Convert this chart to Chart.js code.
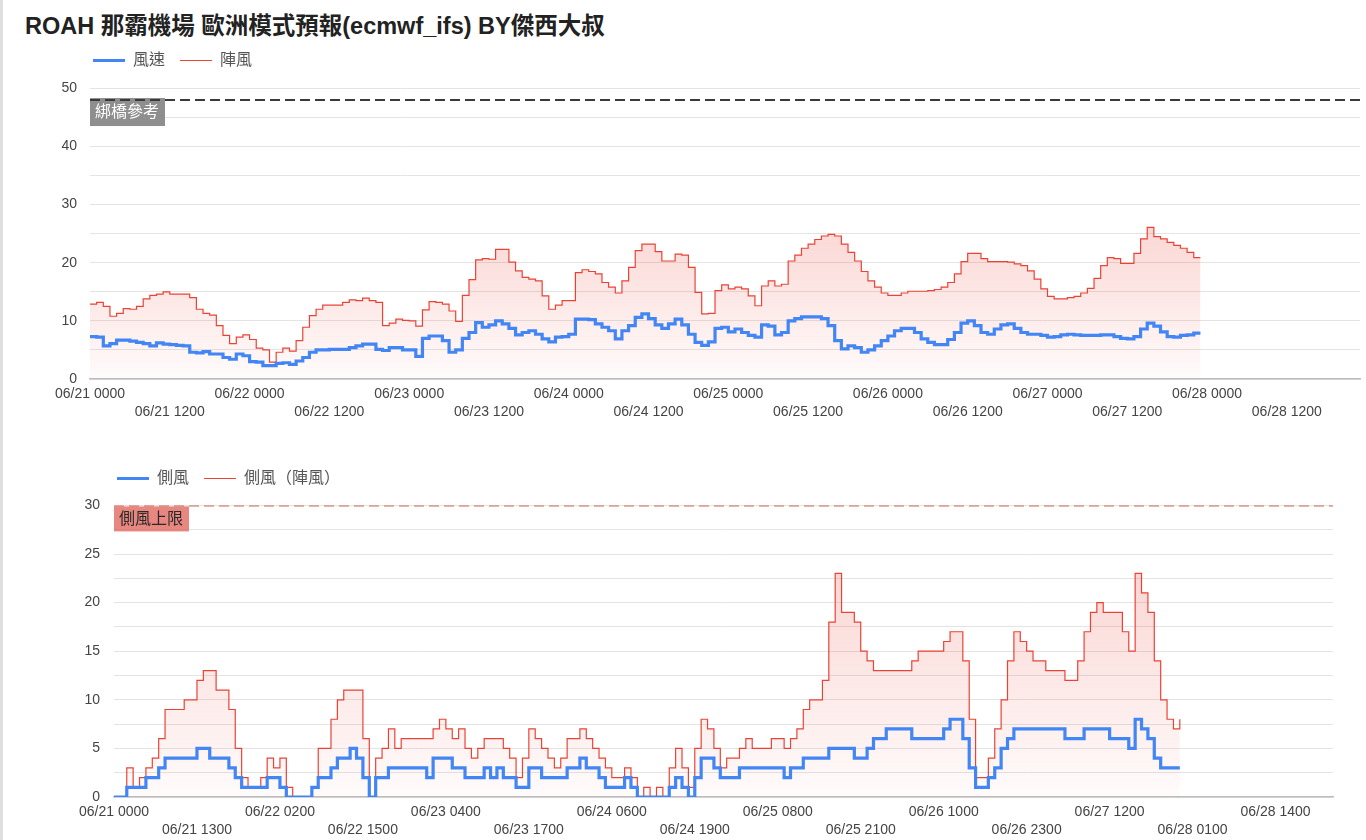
<!DOCTYPE html>
<html lang="zh-Hant">
<head>
<meta charset="utf-8">
<title>ROAH 那霸機場 歐洲模式預報</title>
<script src="https://cdn.jsdelivr.net/npm/chart.js@4"></script>
<style>
  html, body { margin: 0; padding: 0; background: #fff; }
  body {
    width: 1366px; height: 840px; position: relative; overflow: hidden;
    font-family: Arial, "Liberation Sans", "Noto Sans CJK TC", sans-serif;
  }
  .edge { position: absolute; left: 0; top: 0; width: 3px; height: 840px; background: #dedede; }
  h1 {
    position: absolute; left: 25px; top: 12px; margin: 0;
    font-size: 23.5px; line-height: 28px; font-weight: bold; color: #222; white-space: nowrap;
  }
  .legend {
    position: absolute; display: flex; align-items: center; z-index: 2;
    font-size: 16px; line-height: 20px; color: #555;
  }
  .legend .item { display: flex; align-items: center; margin-right: 15px; }
  .legend i { display: inline-block; width: 32px; margin-right: 8px; }
  .wrap { position: absolute; left: 0; }
</style>
</head>
<body>
<div class="edge"></div>
<h1>ROAH 那霸機場 歐洲模式預報(ecmwf_ifs) BY傑西大叔</h1>

<div class="legend" id="legendTop" style="left:93px; top:50px;"></div>
<div class="wrap" style="top:67px;"><canvas id="windChart" width="1366" height="372"></canvas></div>

<div class="legend" id="legendBottom" style="left:117px; top:468px;"></div>
<div class="wrap" style="top:483px;"><canvas id="crossChart" width="1366" height="374"></canvas></div>

<script>
// hourly values from 06/21 0000 to 06/27 2300
const windSpeed = [
  7.3, 7.2, 5.7, 6.1, 6.7, 6.7, 6.5, 6.3, 6.1, 5.7,
  6.2, 6.0, 5.9, 5.8, 5.7, 4.6, 4.5, 4.7, 4.3, 4.3,
  3.7, 3.4, 4.3, 4.0, 3.0, 2.9, 2.3, 2.3, 2.7, 2.8,
  2.5, 3.1, 3.7, 4.6, 5.0, 5.0, 5.1, 5.1, 5.1, 5.4,
  5.7, 6.0, 6.0, 5.1, 4.9, 5.4, 5.4, 5.0, 5.0, 3.9,
  7.0, 7.4, 7.4, 6.6, 4.6, 5.0, 7.0, 8.0, 9.7, 8.9,
  9.3, 10.0, 9.5, 8.7, 7.6, 8.0, 8.3, 7.7, 6.9, 6.4,
  7.2, 7.3, 7.7, 10.3, 10.3, 10.2, 9.5, 8.9, 8.3, 6.9,
  8.3, 9.2, 10.6, 11.2, 10.4, 9.3, 8.7, 9.5, 10.3, 9.3,
  7.7, 6.3, 5.8, 6.4, 8.7, 8.9, 8.1, 8.6, 8.0, 7.5,
  7.2, 9.3, 9.1, 7.6, 8.0, 10.0, 10.4, 10.7, 10.7, 10.7,
  10.4, 9.2, 6.6, 5.2, 5.7, 5.4, 4.6, 5.0, 5.7, 6.6,
  7.4, 8.3, 8.7, 8.7, 8.0, 6.9, 6.3, 5.9, 5.9, 6.8,
  8.0, 9.6, 10.0, 9.2, 8.0, 7.7, 8.6, 9.3, 9.5, 8.7,
  8.0, 7.7, 7.7, 7.5, 7.2, 7.3, 7.6, 7.7, 7.6, 7.5,
  7.5, 7.5, 7.6, 7.6, 7.3, 7.0, 6.9, 7.3, 8.6, 9.6,
  9.1, 8.1, 7.3, 7.2, 7.5, 7.6, 7.9, 7.9
];
const windGust = [
  12.9, 13.2, 12.5, 10.8, 11.3, 12.1, 12.0, 12.5, 13.8, 14.4,
  14.6, 15.0, 14.6, 14.6, 14.6, 14.0, 12.0, 11.3, 11.0, 9.2,
  7.5, 6.1, 7.2, 7.6, 6.8, 5.3, 5.0, 2.9, 4.6, 5.3,
  4.8, 6.6, 8.9, 10.9, 12.0, 12.7, 12.7, 12.7, 13.2, 13.6,
  13.5, 13.9, 13.5, 13.2, 9.2, 9.6, 10.3, 10.1, 10.0, 9.1,
  11.9, 13.3, 13.2, 12.9, 11.7, 9.9, 14.4, 17.1, 20.5, 20.7,
  20.6, 22.3, 22.3, 20.1, 18.6, 17.5, 17.2, 16.9, 14.3, 12.0,
  12.7, 13.5, 13.5, 18.3, 18.8, 18.5, 18.1, 16.6, 15.8, 14.8,
  16.9, 19.2, 22.1, 23.2, 23.2, 21.9, 20.3, 20.3, 21.5, 21.3,
  19.2, 14.9, 11.2, 11.3, 15.2, 16.2, 15.5, 15.8, 15.5, 14.3,
  12.6, 16.0, 16.9, 16.0, 16.3, 20.3, 21.3, 22.5, 23.2, 24.0,
  24.6, 24.9, 24.6, 23.2, 21.8, 20.3, 18.5, 16.9, 15.8, 14.8,
  14.4, 14.4, 14.8, 15.1, 15.1, 15.1, 15.2, 15.4, 15.8, 16.6,
  18.1, 20.2, 21.6, 21.6, 20.7, 20.2, 20.2, 20.2, 20.1, 19.8,
  19.5, 18.6, 17.2, 15.5, 14.2, 13.8, 13.8, 14.0, 14.2, 14.8,
  15.6, 17.3, 19.5, 20.9, 20.7, 19.9, 19.9, 21.6, 24.1, 26.1,
  24.5, 24.1, 23.5, 23.0, 22.5, 21.8, 20.9, 20.9
];
const crossWind = [
  0, 0, 1, 1, 1, 2, 2, 3, 4, 4,
  4, 4, 4, 5, 5, 4, 4, 4, 3, 2,
  1, 1, 1, 1, 2, 2, 1, 0, 0, 0,
  0, 1, 2, 2, 3, 4, 4, 5, 4, 2,
  0, 2, 2, 3, 3, 3, 3, 3, 3, 2,
  4, 4, 4, 3, 3, 2, 2, 2, 3, 2,
  3, 2, 2, 1, 1, 3, 3, 2, 2, 2,
  2, 3, 3, 4, 3, 3, 2, 1, 1, 1,
  2, 1, 0, 0, 0, 0, 0, 1, 2, 1,
  0, 2, 4, 4, 3, 2, 2, 2, 3, 3,
  3, 3, 3, 3, 3, 2, 3, 3, 4, 4,
  4, 4, 5, 5, 5, 5, 4, 4, 5, 6,
  6, 7, 7, 7, 7, 6, 6, 6, 6, 6,
  7, 8, 8, 6, 3, 1, 1, 2, 3, 5,
  6, 7, 7, 7, 7, 7, 7, 7, 7, 6,
  6, 6, 7, 7, 7, 7, 6, 6, 6, 5,
  8, 7, 6, 4, 3, 3, 3, 3
];
const crossGust = [
  0, 0, 3, 1, 2, 3, 4, 6, 9, 9,
  9, 10, 10, 12, 13, 13, 11, 11, 9, 5,
  2, 1, 1, 2, 4, 3, 4, 1, 0, 0,
  0, 1, 5, 5, 8, 10, 11, 11, 11, 6,
  0, 4, 5, 7, 5, 6, 6, 6, 6, 6,
  7, 8, 7, 6, 7, 5, 4, 5, 6, 6,
  6, 5, 4, 2, 4, 7, 6, 5, 4, 3,
  4, 6, 6, 7, 6, 5, 4, 3, 2, 2,
  3, 2, 0, 1, 0, 1, 0, 3, 5, 3,
  1, 5, 8, 7, 5, 3, 4, 4, 5, 6,
  5, 5, 5, 6, 6, 5, 6, 7, 9, 10,
  10, 12, 18, 23, 19, 19, 18, 15, 14, 13,
  13, 13, 13, 13, 13, 14, 15, 15, 15, 15,
  16, 17, 17, 14, 8, 2, 2, 4, 7, 10,
  14, 17, 16, 15, 14, 14, 13, 13, 13, 12,
  12, 14, 17, 19, 20, 19, 19, 19, 17, 15,
  23, 21, 19, 14, 10, 8, 7, 8
];

const topTickLabels = [
  '06/21 0000', '06/21 1200', '06/22 0000', '06/22 1200', '06/23 0000', '06/23 1200',
  '06/24 0000', '06/24 1200', '06/25 0000', '06/25 1200', '06/26 0000', '06/26 1200',
  '06/27 0000', '06/27 1200', '06/28 0000', '06/28 1200'
];
const topTickStep = 12;
const bottomTickLabels = [
  '06/21 0000', '06/21 1300', '06/22 0200', '06/22 1500', '06/23 0400', '06/23 1700',
  '06/24 0600', '06/24 1900', '06/25 0800', '06/25 2100', '06/26 1000', '06/26 2300',
  '06/27 1200', '06/28 0100', '06/28 1400'
];
const bottomTickStep = 13;
const xMaxHours = 191;

const bridgeLimit = 48;
const bridgeLabel = '綁橋參考';
const crossLimit = 30;
const crossLabel = '側風上限';

const BLUE = '#4285F4';
const RED = '#EA4335';
const FONT = 'Arial, "Liberation Sans", "Noto Sans CJK TC", sans-serif';

Chart.defaults.font.family = FONT;
Chart.defaults.color = '#444';

const toPoints = arr => arr.map((v, i) => ({ x: i, y: v }));

function gustFill(series) {
  const top = Math.max(...series);
  return ctx => {
    const { chart } = ctx;
    if (!chart.chartArea) return 'rgba(234,67,53,0.12)';
    const y = chart.scales.y;
    const g = chart.ctx.createLinearGradient(0, y.getPixelForValue(top), 0, y.getPixelForValue(0));
    g.addColorStop(0, 'rgba(234,67,53,0.21)');
    g.addColorStop(1, 'rgba(234,67,53,0.02)');
    return g;
  };
}

// boxed text under the reference line, like the original annotation
const refLabel = {
  id: 'refLabel',
  beforeDatasetsDraw(chart, args, opts) {
    const { ctx, chartArea, scales } = chart;
    const y = scales.y.getPixelForValue(opts.value) + opts.dy;
    ctx.save();
    ctx.fillStyle = opts.bg;
    ctx.fillRect(chartArea.left, y, 75, opts.h);
    ctx.fillStyle = opts.color;
    ctx.font = '16px ' + FONT;
    ctx.textBaseline = 'middle';
    ctx.fillText(opts.text, chartArea.left + 5, y + opts.h / 2 + 1);
    ctx.restore();
  }
};

function xAxis(labels, step) {
  return {
    type: 'linear',
    min: 0,
    max: xMaxHours,
    grid: { display: false, drawTicks: false },
    border: { display: true, color: '#bdbdbd', width: 1.5 },
    afterBuildTicks: axis => { axis.ticks = labels.map((_, i) => ({ value: i * step })); },
    afterFit: axis => { axis.height = 60; },
    ticks: {
      autoSkip: false, maxRotation: 0, minRotation: 0, padding: 6,
      color: '#444', font: { size: 14, lineHeight: 1.3 },
      callback: (v, i) => (i % 2 ? ['', labels[i]] : labels[i])
    }
  };
}

function yAxis(max, step, labelEvery, width, pad) {
  return {
    min: 0,
    max: max,
    grid: { color: '#e4e4e4', lineWidth: 1, drawTicks: false },
    border: { display: false },
    afterFit: axis => { axis.width = width; },
    ticks: {
      stepSize: step, maxTicksLimit: 40, padding: pad,
      color: '#444', font: { size: 14 },
      callback: v => (v % labelEvery === 0 ? v : '')
    }
  };
}

function buildLegend(id, items) {
  const el = document.getElementById(id);
  items.forEach(it => {
    const span = document.createElement('span');
    span.className = 'item';
    const line = document.createElement('i');
    line.style.borderTop = it.width + 'px solid ' + it.color;
    span.appendChild(line);
    span.appendChild(document.createTextNode(it.label));
    el.appendChild(span);
  });
}

function makeChart(canvasId, cfg) {
  return new Chart(document.getElementById(canvasId), {
    type: 'line',
    data: {
      datasets: [
        {
          label: cfg.names[0], data: toPoints(cfg.speed),
          borderColor: BLUE, borderWidth: 3.2, stepped: true,
          pointRadius: 0, fill: false
        },
        {
          label: cfg.names[1], data: toPoints(cfg.gust),
          borderColor: RED, borderWidth: 1.2, stepped: true,
          pointRadius: 0, fill: 'origin', backgroundColor: gustFill(cfg.gust)
        },
        {
          label: cfg.limitText,
          data: [{ x: 0, y: cfg.limit }, { x: xMaxHours, y: cfg.limit }],
          borderColor: cfg.limitColor, borderWidth: cfg.limitWidth, borderDash: [10, 5],
          pointRadius: 0, fill: false
        }
      ]
    },
    options: {
      responsive: false,
      animation: false,
      devicePixelRatio: 1,
      layout: { padding: cfg.padding },
      scales: {
        x: xAxis(cfg.tickLabels, cfg.tickStep),
        y: yAxis(cfg.yMax, cfg.yStep, cfg.yLabelEvery, cfg.yWidth, cfg.yPad)
      },
      plugins: {
        legend: { display: false },
        tooltip: { enabled: false },
        refLabel: cfg.box
      }
    },
    plugins: [refLabel]
  });
}

buildLegend('legendTop', [
  { label: '風速', color: BLUE, width: 3 },
  { label: '陣風', color: RED, width: 1 }
]);
buildLegend('legendBottom', [
  { label: '側風', color: BLUE, width: 3 },
  { label: '側風（陣風）', color: RED, width: 1 }
]);

makeChart('windChart', {
  names: ['風速', '陣風'],
  speed: windSpeed,
  gust: windGust,
  limit: bridgeLimit,
  limitText: bridgeLabel,
  limitColor: '#3a3a3a',
  limitWidth: 2,
  tickLabels: topTickLabels,
  tickStep: topTickStep,
  yMax: 50, yStep: 5, yLabelEvery: 10, yWidth: 90, yPad: 13,
  padding: { top: 3, right: 6, bottom: 0, left: 0 },
  box: { value: bridgeLimit, dy: -2, h: 28, bg: '#8e8e8e', color: '#ffffff', text: bridgeLabel }
});

makeChart('crossChart', {
  names: ['側風', '側風（陣風）'],
  speed: crossWind,
  gust: crossGust,
  limit: crossLimit,
  limitText: crossLabel,
  limitColor: '#d4645a',
  limitWidth: 2,
  tickLabels: bottomTickLabels,
  tickStep: bottomTickStep,
  yMax: 30, yStep: 2.5, yLabelEvery: 5, yWidth: 114, yPad: 14,
  padding: { top: 3, right: 33, bottom: 0, left: 0 },
  box: { value: crossLimit, dy: 1, h: 25, bg: 'rgba(226,104,96,0.8)', color: '#2a2a2a', text: crossLabel }
});
</script>
</body>
</html>
